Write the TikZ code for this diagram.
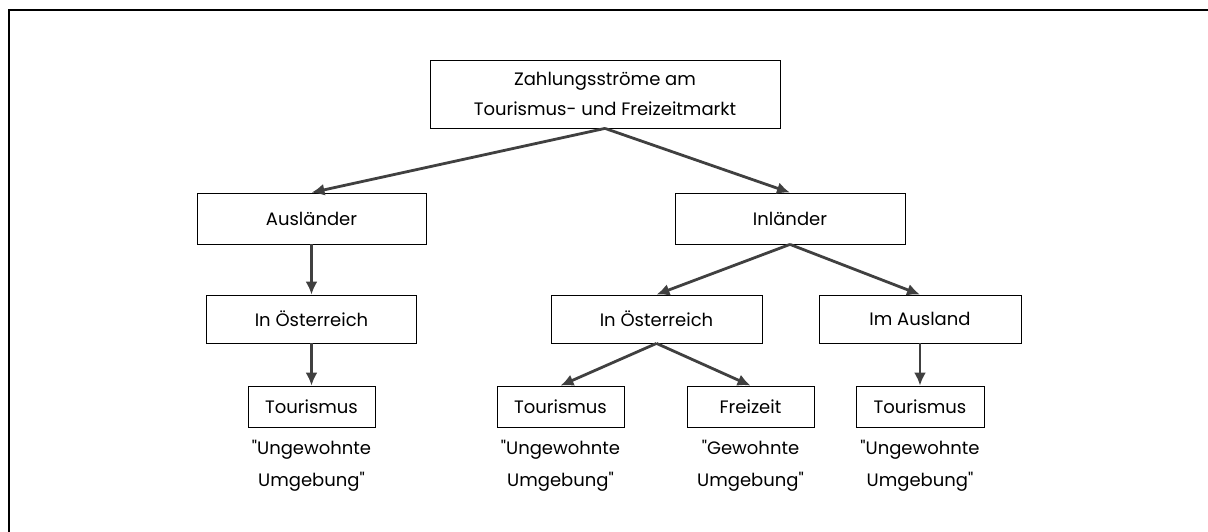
\documentclass[tikz,border=0pt]{standalone}
\usepackage{fontspec}
\setmainfont{Poppins}
\usetikzlibrary{arrows.meta}
\definecolor{dark-gray}{gray}{0.25}

\begin{document}
\begin{tikzpicture}[x=1pt, y=-1pt,%Zahlungsstroeme
  box/.style={draw, line width=0.8pt, inner sep=0pt, font=\fontsize{18}{30}\selectfont},
  note/.style={align=center, inner sep=0pt, font=\fontsize{18}{32}\selectfont},
  flow/.style={dark-gray, line width=2.8pt, -{Latex[length=13pt, width=12pt]}}]
\useasboundingbox (0,0) rectangle (1208,532);
\draw [line width=2.2pt] (9,532) -- (9,10) -- (1208,10);
% level 0
  \node [box, minimum width=350, minimum height=68, align=center] (markt) at (605,94) {Zahlungsströme am\\Tourismus- und Freizeitmarkt};
% level 1
  \node [box, minimum width=229, minimum height=51] (auslaender) at (311.5,218.5) {Ausländer};
  \node [box, minimum width=230, minimum height=51] (inlaender) at (790,218.5) {Inländer};
% level 2
  \node [box, minimum width=210, minimum height=48] (oesterreichA) at (311.5,319) {In Österreich};
  \node [box, minimum width=211, minimum height=48] (oesterreichI) at (656.5,319) {In Österreich};
  \node [box, minimum width=202, minimum height=48] (ausland) at (920,319) {Im Ausland};
% level 3
  \node [box, minimum width=127, minimum height=41] (tourA) at (311.5,406.5) {Tourismus};
  \node [box, minimum width=127, minimum height=41] (tourI) at (560.5,406.5) {Tourismus};
  \node [box, minimum width=127, minimum height=41] (freizeit) at (750.5,406.5) {Freizeit};
  \node [box, minimum width=128, minimum height=41] (tourAus) at (920,406.5) {Tourismus};
% captions
  \node [note] (umgA) at (311.5,466) {\textquotedbl Ungewohnte\\Umgebung\textquotedbl};
  \node [note] (umgI) at (560.5,466) {\textquotedbl Ungewohnte\\Umgebung\textquotedbl};
  \node [note] (umgF) at (750.5,466) {\textquotedbl Gewohnte\\Umgebung\textquotedbl};
  \node [note] (umgAus) at (920,466) {\textquotedbl Ungewohnte\\Umgebung\textquotedbl};
% arrows
\draw [flow] (markt.south) -- (auslaender.north);
\draw [flow] (markt.south) -- (inlaender.north);
\draw [flow] (auslaender.south) -- (oesterreichA.north);
\draw [flow] (oesterreichA.south) -- (tourA.north);
\draw [flow] (inlaender.south) -- (oesterreichI.north);
\draw [flow] (inlaender.south) -- (ausland.north);
\draw [flow] (oesterreichI.south) -- (tourI.north);
\draw [flow] (oesterreichI.south) -- (freizeit.north);
\draw [flow] (ausland.south) -- (tourAus.north);
\end{tikzpicture}
\end{document}
